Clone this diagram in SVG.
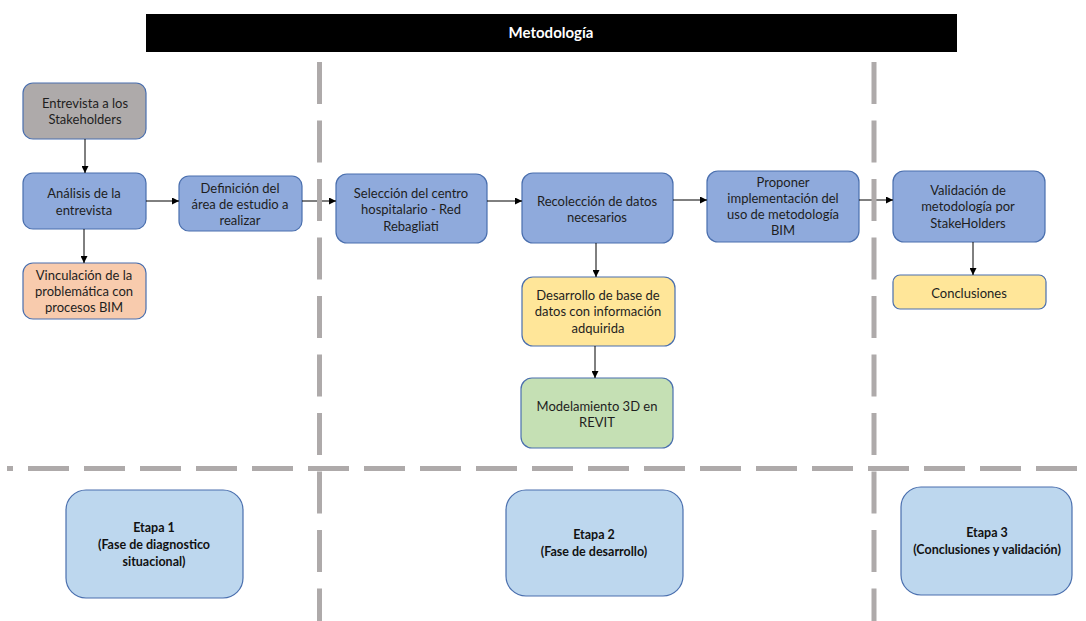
<svg xmlns="http://www.w3.org/2000/svg" width="1086" height="621" viewBox="0 0 1086 621">
  <defs>
    <marker id="arrow" viewBox="0 0 10 10" refX="10" refY="5" markerWidth="7" markerHeight="7" markerUnits="userSpaceOnUse" orient="auto">
      <path d="M0,0 L10,5 L0,10 z" fill="#000"/>
    </marker>
    <style>
      .box { stroke: #4a6fae; stroke-width: 1.2; }
      .blue { fill: #8faadc; }
      .gray { fill: #aeaaaa; }
      .peach { fill: #f8cbad; }
      .yellow { fill: #ffe699; }
      .green { fill: #c5e0b4; }
      .stage { fill: #bdd7ee; }
      .t { font-family: Lato, "Liberation Sans", sans-serif; font-size: 13px; fill: #1e1e1e; text-anchor: middle; }
      .tb { font-family: Lato, "Liberation Sans", sans-serif; font-size: 12.5px; font-weight: bold; fill: #111; text-anchor: middle; }
      .title { font-family: Lato, "Liberation Sans", sans-serif; font-size: 15px; font-weight: bold; fill: #fff; text-anchor: middle; }
      .conn { stroke: #000; stroke-width: 1; fill: none; marker-end: url(#arrow); }
      .divider { stroke: #aeaaaa; stroke-width: 5; fill: none; }
    </style>
  </defs>

  <rect width="1086" height="621" fill="#fff"/>

  <!-- header bar -->
  <g id="header">
    <rect x="146" y="14" width="811" height="38" fill="#000"/>
    <text class="title" x="551" y="38">Metodología</text>
  </g>

  <!-- process nodes -->
  <g id="entrevista">
    <rect class="box gray" x="23" y="83" width="123" height="56" rx="10"/>
    <text class="t" x="85" y="107.5">Entrevista a los</text>
    <text class="t" x="85" y="124">Stakeholders</text>
  </g>
  <g id="analisis">
    <rect class="box blue" x="23" y="173" width="123" height="56" rx="10"/>
    <text class="t" x="84" y="197.5">Análisis de la</text>
    <text class="t" x="84" y="214.5">entrevista</text>
  </g>
  <g id="vinculacion">
    <rect class="box peach" x="23" y="263" width="123" height="56" rx="10"/>
    <text class="t" x="84" y="279.5">Vinculación de la</text>
    <text class="t" x="84" y="296">problemática con</text>
    <text class="t" x="84" y="312">procesos BIM</text>
  </g>
  <g id="definicion">
    <rect class="box blue" x="179" y="176" width="123" height="55" rx="10"/>
    <text class="t" x="240" y="192.5">Definición del</text>
    <text class="t" x="240" y="208.5">área de estudio a</text>
    <text class="t" x="240" y="224.5">realizar</text>
  </g>
  <g id="seleccion">
    <rect class="box blue" x="336" y="174" width="151" height="69" rx="11"/>
    <text class="t" x="411" y="197.5">Selección del centro</text>
    <text class="t" x="411" y="214">hospitalario - Red</text>
    <text class="t" x="411" y="230.5">Rebagliati</text>
  </g>
  <g id="recoleccion">
    <rect class="box blue" x="522" y="173" width="151" height="70" rx="11"/>
    <text class="t" x="597" y="205.5">Recolección de datos</text>
    <text class="t" x="597" y="222">necesarios</text>
  </g>
  <g id="proponer">
    <rect class="box blue" x="707" y="171" width="152" height="71" rx="11"/>
    <text class="t" x="783" y="186.5">Proponer</text>
    <text class="t" x="783" y="202.5">implementación del</text>
    <text class="t" x="783" y="218.5">uso de metodología</text>
    <text class="t" x="783" y="234.5">BIM</text>
  </g>
  <g id="validacion">
    <rect class="box blue" x="893" y="171" width="152" height="71" rx="11"/>
    <text class="t" x="968" y="194.5">Validación de</text>
    <text class="t" x="968" y="211">metodología por</text>
    <text class="t" x="968" y="227.5">StakeHolders</text>
  </g>
  <g id="conclusiones">
    <rect class="box yellow" x="893" y="275" width="153" height="34" rx="7"/>
    <text class="t" x="969" y="297.5">Conclusiones</text>
  </g>
  <g id="desarrollo">
    <rect class="box yellow" x="522" y="277" width="153" height="69" rx="11"/>
    <text class="t" x="598" y="299.5">Desarrollo de base de</text>
    <text class="t" x="598" y="316">datos con información</text>
    <text class="t" x="598" y="332.5">adquirida</text>
  </g>
  <g id="modelamiento">
    <rect class="box green" x="521" y="378" width="152" height="70" rx="11"/>
    <text class="t" x="597" y="410.5">Modelamiento 3D en</text>
    <text class="t" x="597" y="426.5">REVIT</text>
  </g>

  <!-- stage boxes -->
  <g id="etapa1">
    <rect class="box stage" x="66" y="490" width="177" height="108" rx="20"/>
    <text class="tb" x="154" y="532">Etapa 1</text>
    <text class="tb" x="154" y="549">(Fase de diagnostico</text>
    <text class="tb" x="154" y="565.5">situacional)</text>
  </g>
  <g id="etapa2">
    <rect class="box stage" x="506" y="490" width="177" height="106" rx="20"/>
    <text class="tb" x="594" y="539">Etapa 2</text>
    <text class="tb" x="594" y="555.5">(Fase de desarrollo)</text>
  </g>
  <g id="etapa3">
    <rect class="box stage" x="901" y="487" width="171" height="108" rx="20"/>
    <text class="tb" x="987" y="537">Etapa 3</text>
    <text class="tb" x="987" y="553.5">(Conclusiones y validación)</text>
  </g>

  <!-- connectors -->
  <g id="connectors">
    <line class="conn" x1="85" y1="139" x2="85" y2="173"/>
    <line class="conn" x1="84" y1="229" x2="84" y2="263"/>
    <line class="conn" x1="146" y1="201" x2="179" y2="201"/>
    <line class="conn" x1="302" y1="201" x2="336" y2="201"/>
    <line class="conn" x1="487" y1="201" x2="522" y2="201"/>
    <line class="conn" x1="673" y1="200" x2="707" y2="200"/>
    <line class="conn" x1="859" y1="200" x2="893" y2="200"/>
    <line class="conn" x1="596" y1="243" x2="596" y2="277"/>
    <line class="conn" x1="595" y1="346" x2="595" y2="378"/>
    <line class="conn" x1="973" y1="242" x2="973" y2="275"/>
  </g>

  <!-- stage dividers -->
  <g id="dividers">
    <line class="divider" x1="319.5" y1="62" x2="319.5" y2="621" stroke-dasharray="42 16.5"/>
    <line class="divider" x1="874" y1="62" x2="874" y2="621" stroke-dasharray="42 16.5"/>
    <line class="divider" x1="7" y1="468.5" x2="1082" y2="468.5" stroke-dasharray="41 15" stroke-dashoffset="35"/>
  </g>
</svg>
